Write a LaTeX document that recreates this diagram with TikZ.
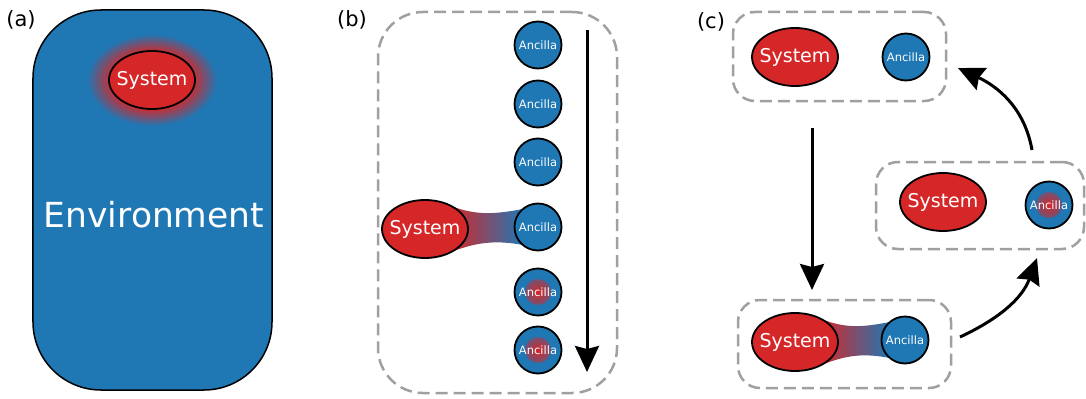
\documentclass[tikz,border=0pt]{standalone}
\usepackage{fontspec}
\setmainfont{DejaVu Sans}
\usetikzlibrary{arrows.meta, positioning, calc, shapes.geometric, backgrounds}
\definecolor{sysred}{HTML}{D62728}
\definecolor{ancblue}{HTML}{1F77B4}
\definecolor{boxgray}{HTML}{A0A0A0}
\pgfdeclareradialshading{halo}{\pgfpointorigin}{color(0bp)=(sysred); color(15bp)=(sysred); color(25bp)=(ancblue); color(50bp)=(ancblue)}
\tikzset{
  sys/.style={ellipse, draw, line width=1.8bp, fill=sysred, text=white, minimum width=86bp, minimum height=58bp, inner xsep=-6bp, inner ysep=0pt, font=\fontsize{19bp}{22bp}\selectfont},
  anc/.style={circle, draw, line width=1.8bp, fill=ancblue, text=white, minimum size=47bp, inner sep=0pt, font=\fontsize{11.5bp}{13bp}\selectfont},
  ancmix/.style={anc, path picture={\shade[inner color=sysred, outer color=ancblue] (path picture bounding box.center) circle (13bp);}},
  grp/.style={draw=boxgray, dash pattern=on 12bp off 6bp, line width=2.5bp, rounded corners=22bp, inner sep=0pt},
  envbox/.style={draw, line width=1.5bp, fill=ancblue, rounded corners=68bp, minimum width=239bp, minimum height=380bp},
  flow/.style={-{Stealth[length=26bp, width=24bp, inset=3bp]}, line width=3bp},
  panel/.style={font=\fontsize{21bp}{24bp}\selectfont, inner sep=0pt}
}
\newcommand{\bridge}[2]{\shade[left color=sysred, right color=ancblue] ($(#1)+(26,23)$) .. controls ($(#1)+(52,13)$) and ($(#2)+(-42,13)$) .. ($(#2)+(-15,18)$) -- ($(#2)+(-15,-18)$) .. controls ($(#2)+(-42,-13)$) and ($(#1)+(52,-13)$) .. ($(#1)+(26,-23)$) -- cycle;}

\begin{document}
\begin{tikzpicture}[x=1bp, y=1bp]
	\useasboundingbox (0,0) rectangle (1086,398);
	% (a)
	\node[panel] (la) at (21,378) {(a)};
	\node[sys] (sysA) at (152,318) {System};
	\begin{scope}[on background layer]
		\node[envbox] (env) at (152.5,198) {};
		\shade[shading=halo] (sysA.center) ellipse [x radius=65, y radius=46];
	\end{scope}
	\node[font=\fontsize{34.5bp}{40bp}\selectfont, text=white] (envlab) at (154,183) {Environment};
	% (b)
	\node[panel] (lb) at (352,378) {(b)};
	\node[grp, rounded corners=45bp, minimum width=239bp, minimum height=381bp] (boxB) at (497.5,195.5) {};
	\node[anc] (ancB1) at (538,353) {Ancilla};
	\node[anc] (ancB2) at (538,294) {Ancilla};
	\node[anc] (ancB3) at (538,236) {Ancilla};
	\node[anc] (ancB4) at (538,171) {Ancilla};
	\node[ancmix] (ancB5) at (538,106) {Ancilla};
	\node[ancmix] (ancB6) at (538,48) {Ancilla};
	\node[sys] (sysB) at (425,169) {System};
	\begin{scope}[on background layer]
		\bridge{sysB}{ancB4}
	\end{scope}
	\coordinate (topB) at (587,368);
	\coordinate (endB) at (587,26);
	\draw[flow] (topB) -- (endB);
	% (c)
	\node[panel] (lc) at (711,376) {(c)};
	\node[grp, minimum width=213bp, minimum height=89bp] (boxC1) at (839.5,341.5) {};
	\node[sys] (sysC1) at (795,341) {System};
	\node[anc] (ancC1) at (906,341) {Ancilla};
	\node[grp, minimum width=208bp, minimum height=87bp] (boxC2) at (980,192.5) {};
	\node[sys] (sysC2) at (943,196) {System};
	\node[ancmix] (ancC2) at (1049,193) {Ancilla};
	\node[grp, minimum width=213bp, minimum height=88bp] (boxC3) at (844.5,54) {};
	\node[sys] (sysC3) at (795,56) {System};
	\node[anc] (ancC3) at (905,58) {Ancilla};
	\begin{scope}[on background layer]
		\bridge{sysC3}{ancC3}
	\end{scope}
	\coordinate (c1out) at (812,270);
	\coordinate (c3in) at (812,108);
	\coordinate (c3out) at (960,61);
	\coordinate (c2in) at (1037,140);
	\coordinate (c2out) at (1032,248);
	\coordinate (c1in) at (958,330);
	\draw[flow] (c1out) -- (c3in);
	\draw[flow] (c3out) to[out=25, in=-110] (c2in);
	\draw[flow] (c2out) to[out=100, in=-25] (c1in);
\end{tikzpicture}
\end{document}
